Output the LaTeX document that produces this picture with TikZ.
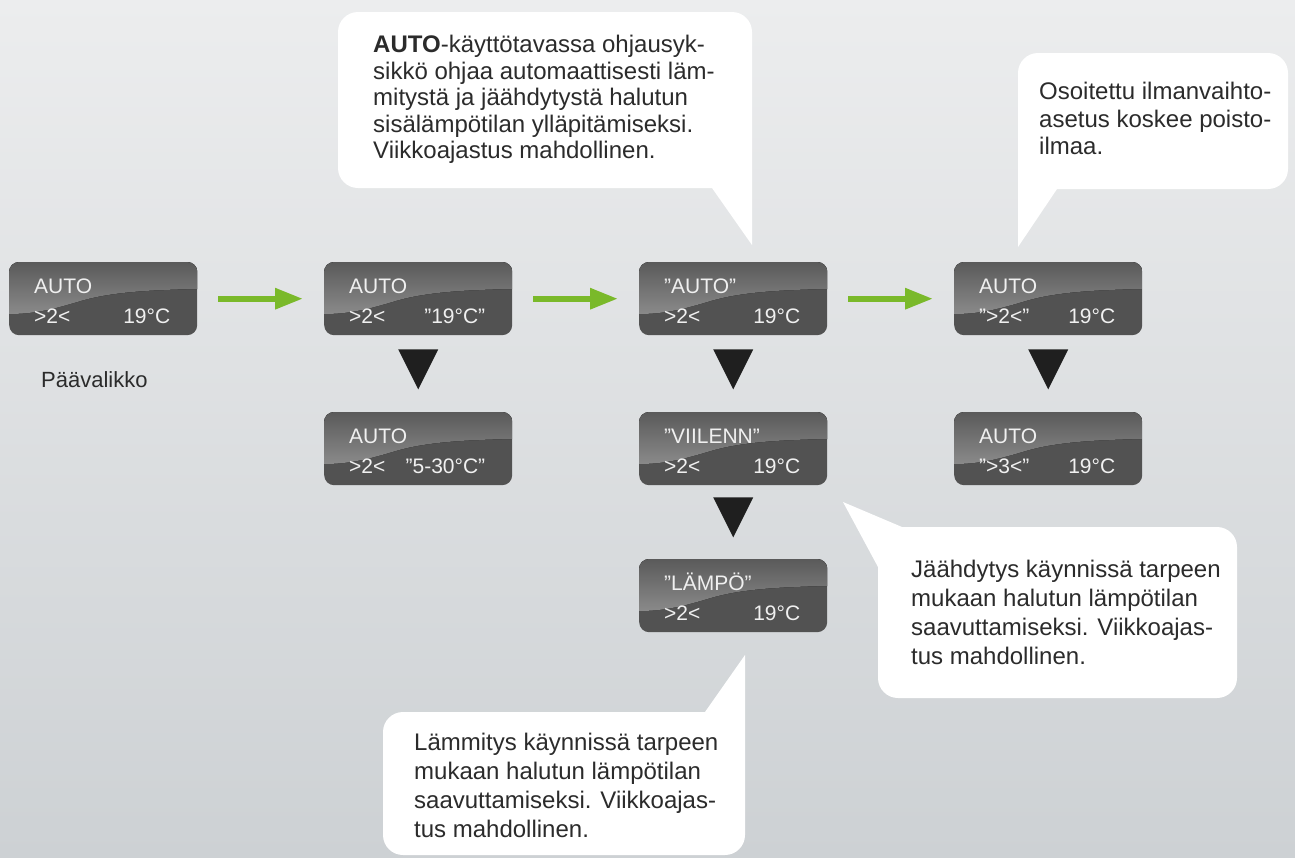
\documentclass[tikz,border=0pt]{standalone}
\usepackage{fontspec}
\setmainfont{Liberation Sans}
\usetikzlibrary{arrows.meta,calc}

\definecolor{bgtop}{HTML}{ECEDEE}
\definecolor{bgbot}{HTML}{CDD1D4}
\definecolor{lcdbody}{HTML}{525252}
\definecolor{lcdtop}{HTML}{5A5A5A}
\definecolor{lcdglow}{HTML}{8A8A8A}
\definecolor{okgreen}{HTML}{7AB92A}
\definecolor{notetext}{HTML}{2B2B2B}

\tikzset{
  lcd/.style={draw=none, fill=lcdbody, rounded corners=10pt, anchor=north west,
    minimum width=188pt, minimum height=73pt, inner sep=0pt},
  lcdtxt/.style={text=white!94!black, inner sep=0pt, font=\fontsize{21}{25}\selectfont},
  note/.style={text=notetext, align=left, inner sep=0pt, anchor=north west,
    font=\fontsize{24}{29}\selectfont},
  nextstep/.style={draw=okgreen, line width=6pt, shorten <=21pt, shorten >=21pt,
    -{Triangle[length=28pt,width=20pt]}},
  balloon/.style={fill=white},
  pointer/.style={fill=black!88}
}

% glossy top and three lines of one display
\newcommand{\lcdlines}[4]{
  \begin{scope}
    \clip[rounded corners=10pt] (#1.north west) rectangle (#1.south east);
    \fill[shift={(#1.north west)}, sharp corners, top color=lcdtop, bottom color=lcdglow]
      (0,0) -- (188,0) -- (188,27) .. controls (140,28) and (105,30) .. (75,38)
      .. controls (48,46) and (28,52) .. (0,52) -- cycle;
  \end{scope}
  \node[lcdtxt, anchor=base west] (#1top) at ($(#1.north west)+(25,31)$) {#2};
  \node[lcdtxt, anchor=base west] (#1fan) at ($(#1.north west)+(25,61)$) {#3};
  \node[lcdtxt, anchor=base east] (#1temp) at ($(#1.north east)+(-27,61)$) {#4};
}

\begin{document}
\begin{tikzpicture}[x=1pt, y=-1pt]
  \fill[top color=bgtop, bottom color=bgbot] (0,0) rectangle (1295,857);
  \useasboundingbox (0,0) rectangle (1295,857);

  % displays
  \node[lcd] (d1) at (9,262) {};
  \node[lcd] (d2) at (324,262) {};
  \node[lcd] (d3) at (639,262) {};
  \node[lcd] (d4) at (954,262) {};
  \node[lcd] (d5) at (324,412) {};
  \node[lcd] (d6) at (639,412) {};
  \node[lcd] (d7) at (954,412) {};
  \node[lcd] (d8) at (639,559) {};

  \lcdlines{d1}{AUTO}{>2<}{19°C}
  \lcdlines{d2}{AUTO}{>2<}{"19°C"}
  \lcdlines{d3}{"AUTO"}{>2<}{19°C}
  \lcdlines{d4}{AUTO}{">2<"}{19°C}
  \lcdlines{d5}{AUTO}{>2<}{"5-30°C"}
  \lcdlines{d6}{"VIILENN"}{>2<}{19°C}
  \lcdlines{d7}{AUTO}{">3<"}{19°C}
  \lcdlines{d8}{"LÄMPÖ"}{>2<}{19°C}

  \node[text=notetext, inner sep=0pt, anchor=base west, font=\fontsize{22}{26}\selectfont]
    (main) at (41,387) {Päävalikko};

  % green arrows
  \draw[nextstep] (d1) -- (d2);
  \draw[nextstep] (d2) -- (d3);
  \draw[nextstep] (d3) -- (d4);

  % black triangles
  \fill[pointer] ($(d2.south)+(-20,14)$) -- ++(40,0) -- ++(-20,40) -- cycle;
  \fill[pointer] ($(d3.south)+(-20,14)$) -- ++(40,0) -- ++(-20,40) -- cycle;
  \fill[pointer] ($(d4.south)+(-20,14)$) -- ++(40,0) -- ++(-20,40) -- cycle;
  \fill[pointer] ($(d6.south)+(-20,12)$) -- ++(40,0) -- ++(-20,40) -- cycle;

  % speech balloons
  \fill[balloon] (712,188) [rounded corners=20pt] -- (338,188) -- (338,12)
    -- (752,12) -- (752,150) [sharp corners] -- (752,245) -- cycle;
  \fill[balloon] (1057,189) [rounded corners=20pt] -- (1288,189) -- (1288,53)
    -- (1018,53) -- (1018,150) [sharp corners] -- (1018,247) -- cycle;
  \fill[balloon] (902,527) [rounded corners=20pt] -- (1237,527) -- (1237,698)
    -- (878,698) -- (878,610) [sharp corners] -- (878,567) -- (843,502) -- cycle;
  \fill[balloon] (705,712) [rounded corners=20pt] -- (383,712) -- (383,855)
    -- (745,855) -- (745,760) [sharp corners] -- (745,655) -- cycle;

  \node[note, font=\fontsize{24}{26.5}\selectfont] (n1) at (373,35) {\textbf{AUTO}-käyttötavassa ohjausyk-\\
    sikkö ohjaa automaattisesti läm-\\mitystä ja jäähdytystä halutun\\
    sisälämpötilan ylläpitämiseksi.\\Viikkoajastus mahdollinen.};
  \node[note, font=\fontsize{24}{27.5}\selectfont] (n2) at (1039,82) {Osoitettu ilmanvaihto-\\asetus koskee poisto-\\ilmaa.};
  \node[note] (n3) at (911,559.5) {Jäähdytys käynnissä tarpeen\\mukaan halutun lämpötilan\\
    saavuttamiseksi. Viikkoajas-\\tus mahdollinen.};
  \node[note] (n4) at (414,732.5) {Lämmitys käynnissä tarpeen\\mukaan halutun lämpötilan\\
    saavuttamiseksi. Viikkoajas-\\tus mahdollinen.};
\end{tikzpicture}
\end{document}
